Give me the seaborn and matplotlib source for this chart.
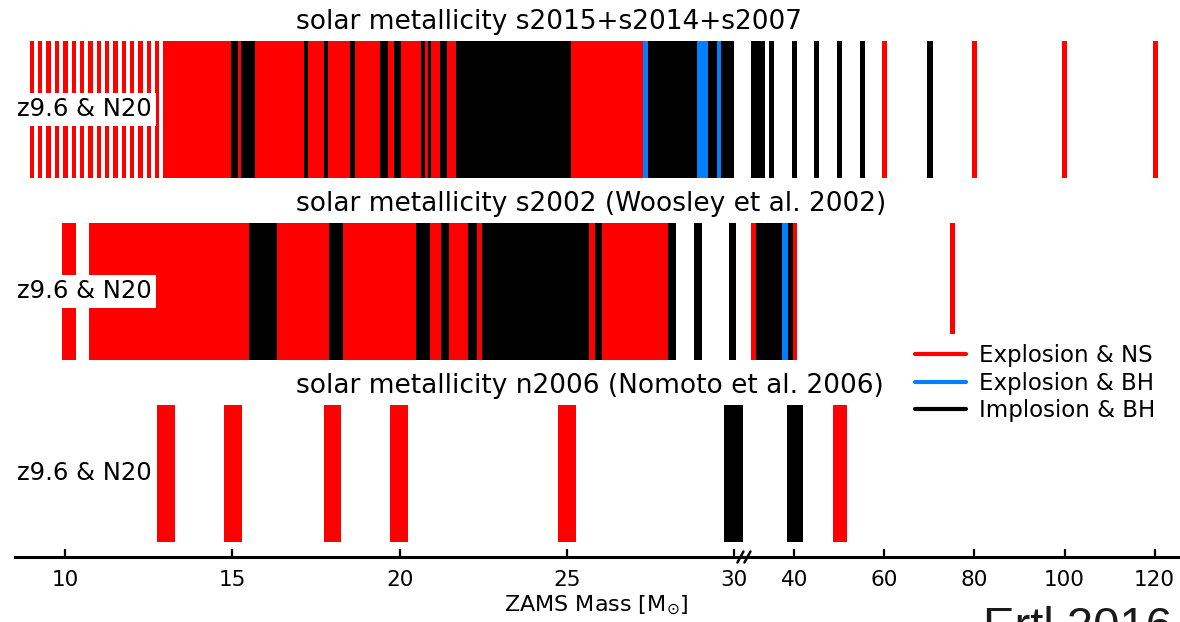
import numpy as np
import pandas as pd
import matplotlib
matplotlib.use("Agg")
import matplotlib.pyplot as plt
import seaborn as sns
from matplotlib.lines import Line2D

# ---------------- data (ZAMS masses in Msun, outcome of each model range) -------------
# outcome codes: NS = explosion & NS, XBH = explosion & BH, BH = implosion & BH
titles = ["solar metallicity s2015+s2014+s2007",
          "solar metallicity s2002 (Woosley et al. 2002)",
          "solar metallicity n2006 (Nomoto et al. 2006)"]
row_label = "z9.6 & N20"

# top panel: individual low-mass models drawn as thin lines
s2015_single_mass = [9.0, 9.25, 9.5, 9.75, 10.0, 10.25, 10.5, 10.75,
                     11.0, 11.25, 11.5, 11.75, 12.0, 12.25, 12.5, 12.75]
s2015_lo = [12.93, 14.96, 15.16, 15.25, 15.67, 17.13, 17.25, 17.73, 17.85, 18.51,
            18.66, 19.40, 19.64, 19.82, 20.03, 20.63, 20.75, 20.84, 20.93, 21.22,
            21.43, 21.70, 25.13, 27.28, 27.43, 28.90, 29.22, 29.49, 29.61,
            30.4, 34.35, 39.45, 44.4, 49.4, 54.5, 59.5, 69.5, 79.5, 99.5, 119.7]
s2015_hi = [14.96, 15.16, 15.25, 15.67, 17.13, 17.25, 17.73, 17.85, 18.51, 18.66,
            19.40, 19.64, 19.82, 20.03, 20.63, 20.75, 20.84, 20.93, 21.22, 21.43,
            21.70, 25.13, 27.28, 27.43, 28.90, 29.22, 29.49, 29.61, 30.00,
            33.6, 35.6, 40.55, 45.5, 50.6, 55.6, 60.6, 70.8, 80.6, 100.6, 120.8]
s2015_out = ["NS", "BH", "NS", "BH", "NS", "BH", "NS", "BH", "NS", "BH",
             "NS", "BH", "NS", "BH", "NS", "BH", "NS", "BH", "NS", "BH",
             "NS", "BH", "NS", "XBH", "BH", "XBH", "BH", "XBH", "BH",
             "BH", "BH", "BH", "BH", "BH", "BH", "NS", "BH", "NS", "NS", "NS"]

s2002_lo = [9.91, 10.72, 15.50, 16.32, 17.88, 18.31, 20.48, 20.90, 21.25, 21.49,
            22.06, 22.30, 22.45, 25.67, 25.85, 26.06, 28.03, 28.81, 29.85,
            30.4, 31.5, 37.3, 38.6, 39.7, 74.5]
s2002_hi = [10.33, 15.50, 16.32, 17.88, 18.31, 20.48, 20.90, 21.25, 21.49, 22.06,
            22.30, 22.45, 25.67, 25.85, 26.06, 28.03, 28.27, 29.05, 30.06,
            31.5, 37.3, 38.6, 39.7, 40.6, 75.6]
s2002_out = ["NS", "NS", "BH", "NS", "BH", "NS", "BH", "NS", "BH", "NS",
             "BH", "NS", "BH", "NS", "BH", "NS", "BH", "BH", "BH",
             "NS", "BH", "XBH", "BH", "NS", "NS"]

n2006_lo = [12.74, 14.76, 17.75, 19.70, 24.73, 29.70, 38.4, 48.6]
n2006_hi = [13.27, 15.29, 18.26, 20.24, 25.27, 30.27, 42.0, 51.7]
n2006_out = ["NS", "NS", "NS", "NS", "NS", "BH", "BH", "NS"]

tick_values = [10, 15, 20, 25, 30, 40, 60, 80, 100, 120]
legend_labels = {"NS": "Explosion & NS", "XBH": "Explosion & BH", "BH": "Implosion & BH"}
credit = "Ertl 2016"

# ---------------- style ----------------
sns.set_theme(style="white")
plt.rcParams["font.family"] = ["DejaVu Sans"]
plt.rcParams["text.color"] = "black"
plt.rcParams["axes.labelcolor"] = "black"
plt.rcParams["xtick.color"] = "black"
palette = {"NS": "#ff0000", "XBH": "#0080ff", "BH": "#000000"}

# broken axis: linear up to ~30 Msun, compressed above
BREAK = 30.3
GAP = 0.1985
RATIO = 4.5 / 33.4


def fwd(m):
    m = np.asarray(m, dtype=float)
    return np.where(m <= BREAK, m, BREAK + GAP + (m - BREAK) * RATIO)


def inv(u):
    u = np.asarray(u, dtype=float)
    return np.where(u <= BREAK, u,
                    np.where(u < BREAK + GAP, BREAK, BREAK + (u - BREAK - GAP) / RATIO))


W, H = 1180, 622
fig = plt.figure(figsize=(W / 100, H / 100), dpi=100)
ax = fig.add_axes([15 / W, 65 / H, 1163 / W, 527 / H])
ax.set_xscale("function", functions=(fwd, inv))
ax.set_xlim(8.494, 125.2)
ax.set_ylim(0, 527 / 182)

BAR_OFF = 15 / 182
BAR_H = 137 / 182

# assemble tidy frame
frames = []
stripe_w = 0.13
frames.append(pd.DataFrame({"row": 2,
                            "lo": np.array(s2015_single_mass) - stripe_w / 2,
                            "hi": np.array(s2015_single_mass) + stripe_w / 2,
                            "out": "NS"}))
frames.append(pd.DataFrame({"row": 2, "lo": s2015_lo, "hi": s2015_hi, "out": s2015_out}))
frames.append(pd.DataFrame({"row": 1, "lo": s2002_lo, "hi": s2002_hi, "out": s2002_out}))
frames.append(pd.DataFrame({"row": 0, "lo": n2006_lo, "hi": n2006_hi, "out": n2006_out}))
df = pd.concat(frames, ignore_index=True)

for out, g in df.groupby("out"):
    ax.bar(x=g["lo"].to_numpy(), height=BAR_H, width=(g["hi"] - g["lo"]).to_numpy(),
           bottom=(g["row"] + BAR_OFF).to_numpy(),
           align="edge", color=palette[out], linewidth=0, zorder=2)

# titles and row labels
for row, title in zip([2, 1, 0], titles):
    ax.text(16.91, row + BAR_OFF + BAR_H + 0.104, title, ha="left", va="center",
            fontsize=19, color="black", clip_on=False)
    ax.text(8.55, row + BAR_OFF + BAR_H / 2, row_label, ha="left", va="center",
            fontsize=17.5, color="black", zorder=4,
            bbox=dict(boxstyle="square,pad=0.18", facecolor="white", edgecolor="none"))

# axes decoration
sns.despine(ax=ax, left=True, top=True, right=True)
ax.spines["bottom"].set_linewidth(2.2)
ax.spines["bottom"].set_color("black")
ax.set_yticks([])
ax.set_xticks(tick_values)
ax.set_xticklabels([str(t) for t in tick_values])
ax.xaxis.set_minor_locator(matplotlib.ticker.NullLocator())
ax.tick_params(axis="x", direction="in", length=5.5, width=1.6, color="black",
               labelcolor="black", labelsize=15.5, pad=9, bottom=True)
ax.set_xlabel("ZAMS Mass [M$_{\\odot}$]", fontsize=16, labelpad=3, color="black")

# axis break marks
fig.canvas.draw()
cx, cy = ax.transData.transform((BREAK, 0))
to_ax = ax.transAxes.inverted()
for dx in (-3.5, 3.5):
    p0 = to_ax.transform((cx + dx - 3, cy - 5.5))
    p1 = to_ax.transform((cx + dx + 3, cy + 5.5))
    ax.plot([p0[0], p1[0]], [p0[1], p1[1]], transform=ax.transAxes, color="black",
            lw=1.8, clip_on=False, zorder=5)

# legend
handles = [Line2D([0], [0], color=palette[k], lw=3) for k in ["NS", "XBH", "BH"]]
leg = ax.legend(handles, [legend_labels[k] for k in ["NS", "XBH", "BH"]],
                loc="upper left", bbox_to_anchor=((905 - 15) / 1163, (557 - 334) / 527),
                borderaxespad=0, frameon=True, fontsize=16.5, handlelength=2.2,
                handletextpad=0.6, labelspacing=0.2, borderpad=0.45, labelcolor="black")
leg.get_frame().set_facecolor("white")
leg.get_frame().set_edgecolor("none")
leg.get_frame().set_alpha(1)
leg.set_zorder(6)

fig.text(983 / W, (H - 640.5) / H, credit, ha="left", va="baseline", fontsize=34,
         family=["Liberation Sans", "DejaVu Sans"], color="#1a1a1a")

fig.savefig("out.png", dpi=100)
